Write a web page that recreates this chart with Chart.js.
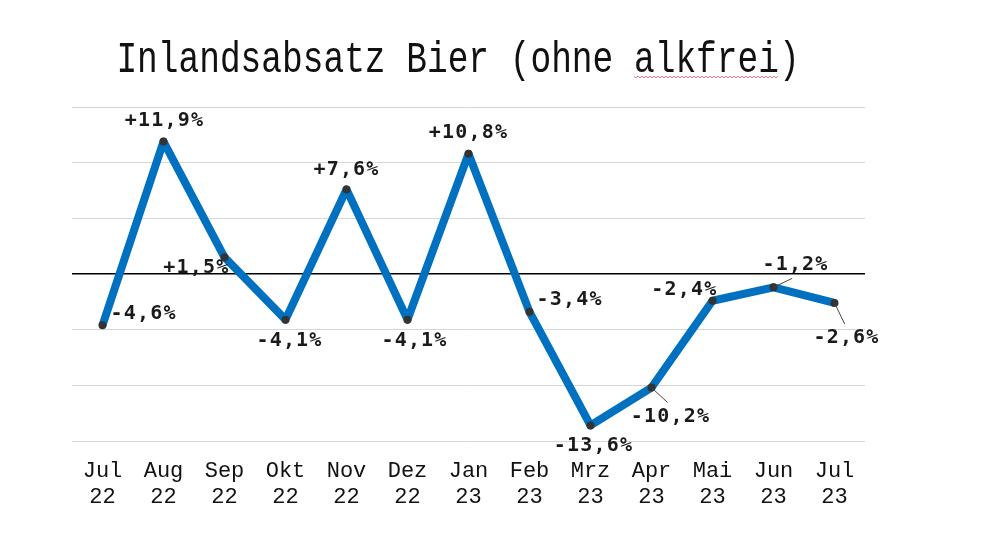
<!DOCTYPE html>
<html lang="de">
<head>
<meta charset="utf-8" />
<title>Inlandsabsatz Bier</title>
<script src="https://cdn.jsdelivr.net/npm/chart.js"></script>
<style>
  html, body { margin: 0; padding: 0; background: #fff; }
  #wrap { width: 1000px; height: 551px; position: relative; }
</style>
</head>
<body>
<div id="wrap"><canvas id="beerChart"></canvas></div>
<script>
  // data
  const months = [["Jul","22"],["Aug","22"],["Sep","22"],["Okt","22"],["Nov","22"],["Dez","22"],
                  ["Jan","23"],["Feb","23"],["Mrz","23"],["Apr","23"],["Mai","23"],["Jun","23"],["Jul","23"]];
  const change = [-4.6, 11.9, 1.5, -4.1, 7.6, -4.1, 10.8, -3.4, -13.6, -10.2, -2.4, -1.2, -2.6];
  const yTicks = [-15, -10, -5, 0, 5, 10, 15];

  // label placement relative to the point: [dx, dy, align, leader]
  const labelPos = [
    [8, -11, "left", false], [1, -21, "center", false], [5, 10, "right", false],
    [4, 21, "center", false], [0, -20, "center", false], [7, 21, "center", false],
    [0, -21, "center", false], [7, -12, "left", false], [3, 20, "center", false],
    [19, 29, "center", true], [5, -11, "right", false], [22, -23, "center", true],
    [12, 35, "center", true]
  ];

  const fmt = v => (v > 0 ? "+" : "") + v.toFixed(1).replace(".", ",") + "%";

  const titlePlugin = {
    id: "bigTitle",
    afterDraw(chart) {
      const ctx = chart.ctx;
      const text = "Inlandsabsatz Bier (ohne alkfrei)";
      ctx.save();
      ctx.font = "34.5px 'Liberation Mono'";
      ctx.fillStyle = "#111";
      ctx.textAlign = "left";
      ctx.textBaseline = "alphabetic";
      const w = ctx.measureText(text).width;
      const x0 = 458 - w / 2;
      ctx.translate(x0, 72);
      ctx.scale(1, 1.3);
      ctx.fillText(text, 0, 0);
      ctx.restore();
      // spell-check squiggle under "alkfrei"
      ctx.save();
      const cw = w / text.length;
      const sx = x0 + cw * 25, ex = x0 + cw * 32;
      ctx.strokeStyle = "rgba(230,80,80,0.8)";
      ctx.lineWidth = 1;
      ctx.beginPath();
      for (let x = sx, i = 0; x <= ex; x += 2, i++) {
        const y = 77 + (i % 2 ? 1 : -1);
        i === 0 ? ctx.moveTo(x, y) : ctx.lineTo(x, y);
      }
      ctx.stroke();
      ctx.restore();
    }
  };

  const labelPlugin = {
    id: "valueLabels",
    afterDatasetsDraw(chart) {
      const ctx = chart.ctx;
      const meta = chart.getDatasetMeta(0);
      ctx.save();
      ctx.font = "bold 20px 'DejaVu Sans Mono'";
      ctx.letterSpacing = "1.2px";
      ctx.fillStyle = "#1a1a1a";
      ctx.textBaseline = "middle";
      meta.data.forEach((pt, i) => {
        const [dx, dy, align, leader] = labelPos[i];
        const tx = pt.x + dx, ty = pt.y + dy;
        if (leader) {
          ctx.strokeStyle = "#444";
          ctx.lineWidth = 1;
          ctx.beginPath();
          ctx.moveTo(pt.x, pt.y);
          ctx.lineTo(pt.x + dx * 0.85, pt.y + (dy > 0 ? dy - 14 : dy + 14));
          ctx.stroke();
        }
        ctx.textAlign = align;
        ctx.fillText(fmt(change[i]), tx, ty);
      });
      ctx.restore();
    }
  };

  new Chart(document.getElementById("beerChart"), {
    type: "line",
    data: {
      labels: months,
      datasets: [{
        data: change,
        borderColor: "#0070C0",
        borderWidth: 8,
        borderJoinStyle: "round",
        tension: 0,
        pointRadius: 4,
        pointBackgroundColor: "#333",
        pointBorderWidth: 0,
        fill: false
      }]
    },
    options: {
      responsive: true,
      maintainAspectRatio: false,
      animation: false,
      layout: { padding: { top: 107, left: 72, right: 135, bottom: 30 } },
      plugins: { legend: { display: false }, title: { display: false }, tooltip: { enabled: false } },
      scales: {
        x: {
          offset: true,
          grid: { display: false, drawTicks: false },
          border: { display: false },
          ticks: {
            color: "#111",
            font: { family: "'Liberation Mono'", size: 22 },
            padding: 17,
            maxRotation: 0,
            autoSkip: false
          },
          afterFit(s) { s.height = 80; }
        },
        y: {
          min: yTicks[0],
          max: yTicks[yTicks.length - 1],
          afterBuildTicks(s) { s.ticks = yTicks.map(v => ({ value: v })); },
          ticks: { display: false },
          border: { display: false },
          grid: {
            drawTicks: false,
            color: c => c.tick.value === 0 ? "#000" : "#d6d6d6",
            lineWidth: c => c.tick.value === 0 ? 1.5 : 1
          },
          afterFit(s) { s.width = 0; }
        }
      }
    },
    plugins: [titlePlugin, labelPlugin]
  });
</script>
</body>
</html>
